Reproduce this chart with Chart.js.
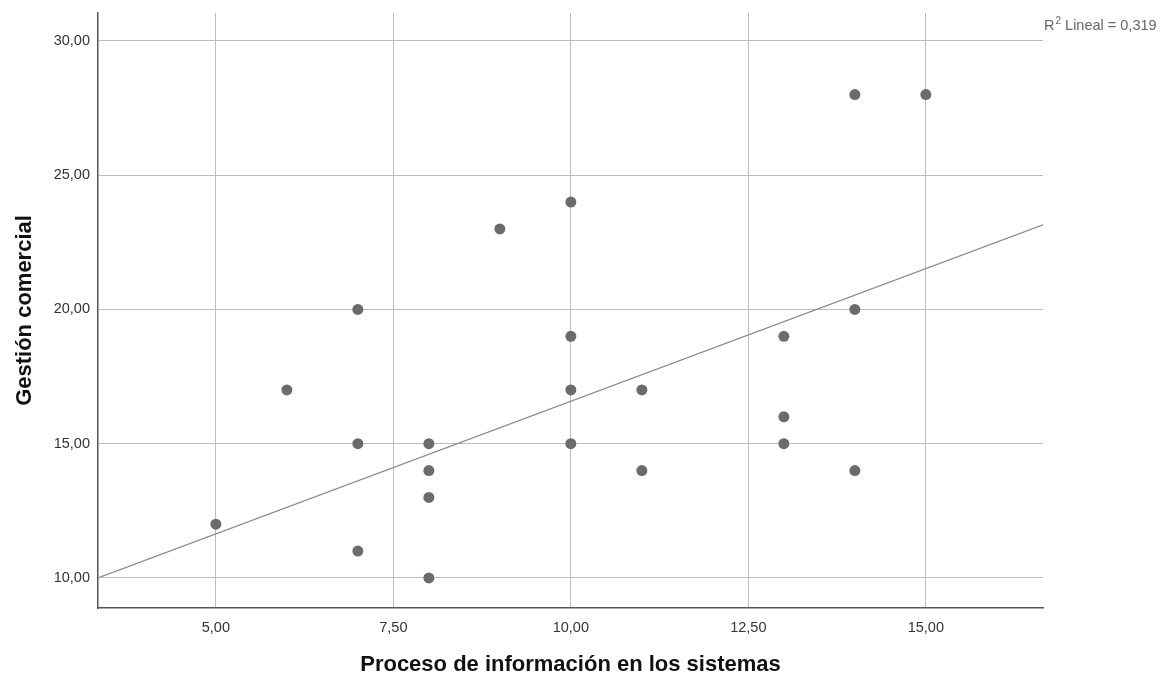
<!DOCTYPE html>
<html>
<head>
<meta charset="utf-8">
<script src="https://cdn.jsdelivr.net/npm/chart.js@4/dist/chart.umd.min.js"></script>
<style>
  body { margin: 0; background: #fff; }
</style>
</head>
<body>
<canvas id="grafico" width="1170" height="682"></canvas>
<script>
const procesoInfo = [5, 6, 7, 7, 7, 8, 8, 8, 8, 9, 10, 10, 10, 10, 11, 11, 13, 13, 13, 14, 14, 14, 15];
const gestionComercial = [12, 17, 20, 15, 11, 15, 14, 13, 10, 23, 24, 19, 17, 15, 17, 14, 19, 16, 15, 28, 20, 14, 28];
const xTicks = [5, 7.5, 10, 12.5, 15];
const yTicks = [10, 15, 20, 25, 30];
// recta de ajuste (extremos)
const ajusteX = [3.34, 16.65];
const ajusteY = [10.0, 23.15];
const r2Texto = ' Lineal = 0,319';

const FUENTE = '"Liberation Sans", Arial, sans-serif';
const fmt = v => v.toFixed(2).replace('.', ',');

const puntos = procesoInfo.map((x, i) => ({x: x, y: gestionComercial[i]}));
const recta = ajusteX.map((x, i) => ({x: x, y: ajusteY[i]}));

// etiqueta R2 arriba a la derecha
const etiquetaR2 = {
  id: 'etiquetaR2',
  afterDraw(chart) {
    const ctx = chart.ctx;
    ctx.save();
    ctx.fillStyle = '#666';
    ctx.textBaseline = 'alphabetic';
    ctx.font = '14.5px ' + FUENTE;
    let x = 1044, y = 30;
    ctx.fillText('R', x, y);
    x += ctx.measureText('R').width + 1;
    ctx.font = '10px ' + FUENTE;
    ctx.fillText('2', x, y - 6);
    x += ctx.measureText('2').width;
    ctx.font = '14.5px ' + FUENTE;
    ctx.fillText(r2Texto, x, y);
    ctx.restore();
  }
};

new Chart('grafico', {
  type: 'scatter',
  data: {
    datasets: [{
      data: puntos,
      backgroundColor: '#6b6b6b',
      borderWidth: 0,
      pointRadius: 5.5,
      pointHoverRadius: 5.5
    }, {
      type: 'line',
      data: recta,
      borderColor: '#8a8a8a',
      borderWidth: 1.3,
      pointRadius: 0,
      fill: false
    }]
  },
  options: {
    responsive: false,
    animation: false,
    layout: { padding: { top: 13, right: 127, left: 0, bottom: 0 } },
    plugins: { legend: { display: false }, tooltip: { enabled: false } },
    scales: {
      x: {
        type: 'linear',
        min: 3.34, max: 16.65,
        afterBuildTicks: s => { s.ticks = xTicks.map(v => ({value: v})); },
        afterFit: s => { s.height = 74; s.paddingLeft = 0; s.paddingRight = 0; },
        grid: { color: '#bdbdbd', lineWidth: 1, drawTicks: false },
        border: { color: '#555', width: 1.5 },
        ticks: { padding: 11, color: '#333', font: { family: FUENTE, size: 14.5 }, callback: v => fmt(v), maxRotation: 0 },
        title: { display: true, text: 'Proceso de información en los sistemas', color: '#111',
                 font: { family: FUENTE, size: 22, weight: 'bold' }, padding: { top: 0, bottom: 4 } }
      },
      y: {
        type: 'linear',
        min: 8.88, max: 31.04,
        afterBuildTicks: s => { s.ticks = yTicks.map(v => ({value: v})); },
        afterFit: s => { s.width = 98; s.paddingTop = 0; s.paddingBottom = 0; },
        grid: { color: '#bdbdbd', lineWidth: 1, drawTicks: false },
        border: { color: '#555', width: 1.5 },
        ticks: { padding: 8, color: '#333', font: { family: FUENTE, size: 14.5 }, callback: v => fmt(v) },
        title: { display: true, text: 'Gestión comercial', color: '#111',
                 font: { family: FUENTE, size: 22, weight: 'bold' }, padding: { top: 12, bottom: 0 } }
      }
    }
  },
  plugins: [etiquetaR2]
});
</script>
</body>
</html>
